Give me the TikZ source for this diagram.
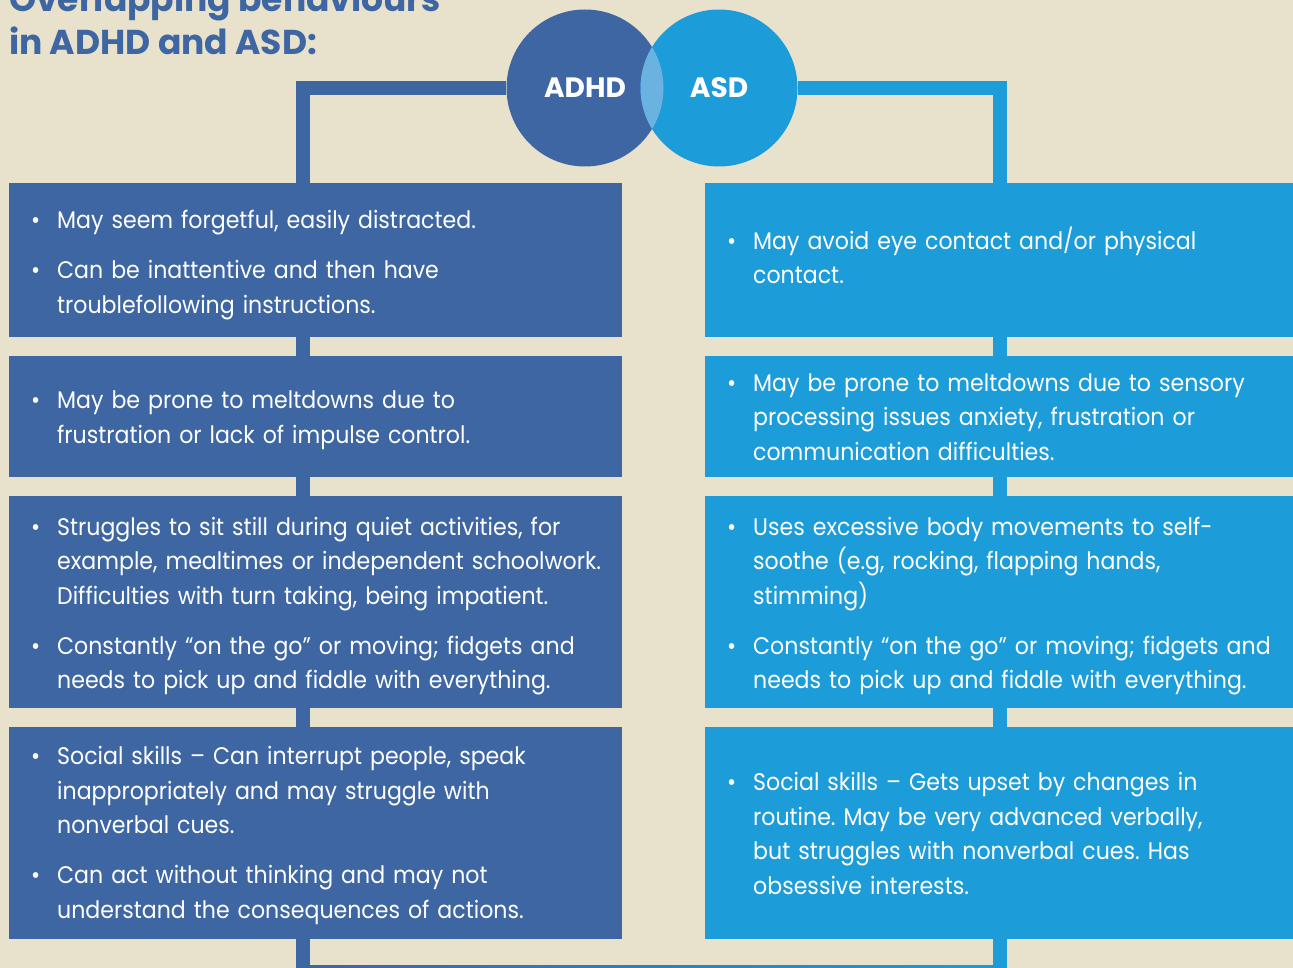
\documentclass[tikz,border=0pt]{standalone}
\usepackage{fontspec}
\setmainfont{Poppins}
\newfontfamily\bodyfont{Poppins}[FakeStretch=0.92]
\usetikzlibrary{calc,backgrounds}
\definecolor{paper}{HTML}{E8E1CC}
\definecolor{adhdblue}{HTML}{3D66A3}
\definecolor{asdblue}{HTML}{1C9CD8}
\definecolor{lensblue}{HTML}{6AB2E0}
\newcommand\itm[1]{\par\leftskip=48pt\noindent\llap{\makebox[26pt][l]{\textbullet}}#1\par}
\newcommand\itmgap{\vspace{15.5pt}}
\tikzset{
  box/.style={anchor=north west, inner sep=0pt, text width=#1, align=left, text=white,
    font=\bodyfont\fontsize{24}{34.5}\selectfont\frenchspacing},
  lift/.style={execute at end node={\par\vspace{#1pt}}},
  circ/.style={circle, minimum size=157, inner sep=0pt, text=white,
    font=\bfseries\fontsize{28}{28}\selectfont},
  frameline/.style={line width=13.5, draw=#1},
}
\begin{document}
\begin{tikzpicture}[x=1pt, y=-1pt]
	\useasboundingbox (0,0) rectangle (1293,968);
	% title
	\node[anchor=base west, align=left, text=adhdblue, inner sep=0pt,
	      font=\bfseries\fontsize{34.5}{43}\selectfont] (title) at (9,55)
	      {Overlapping behaviours\\in ADHD and ASD:};
	% circles
	\node[circ, fill=adhdblue] (adhd) at (585,88) {ADHD};
	\node[circ, fill=asdblue]  (asd)  at (719,88) {ASD};
	\begin{scope}
		\clip (adhd.center) circle (78.5);
		\fill[lensblue] (asd.center) circle (78.5);
	\end{scope}
	% ADHD column
	\node[box=613, lift=6, minimum height=154, fill=adhdblue] (a1) at (9,183)
	  {\itm{May seem forgetful, easily distracted.}\itmgap
	   \itm{Can be inattentive and then have\\troublefollowing instructions.}};
	\node[box=613, lift=10, minimum height=121, fill=adhdblue] (a2) at (9,356)
	  {\itm{May be prone to meltdowns due to\\frustration or lack of impulse control.}};
	\node[box=613, lift=8, minimum height=212, fill=adhdblue] (a3) at (9,496)
	  {\itm{Struggles to sit still during quiet activities, for\\example, mealtimes or independent schoolwork.\\Difficulties with turn taking, being impatient.}\itmgap
	   \itm{Constantly “on the go” or moving; fidgets and\\needs to pick up and fiddle with everything.}};
	\node[box=613, lift=12, minimum height=212, fill=adhdblue] (a4) at (9,727)
	  {\itm{Social skills – Can interrupt people, speak\\inappropriately and may struggle with\\nonverbal cues.}\itmgap
	   \itm{Can act without thinking and may not\\understand the consequences of actions.}};
	% ASD column
	\node[box=588, lift=22, minimum height=154, fill=asdblue] (b1) at (705,183)
	  {\itm{May avoid eye contact and/or physical\\contact.}};
	\node[box=588, lift=16, minimum height=121, fill=asdblue] (b2) at (705,356)
	  {\itm{May be prone to meltdowns due to sensory\\processing issues anxiety, frustration or\\communication difficulties.}};
	\node[box=588, lift=8, minimum height=212, fill=asdblue] (b3) at (705,496)
	  {\itm{Uses excessive body movements to self-\\soothe (e.g, rocking, flapping hands,\\stimming)}\itmgap
	   \itm{Constantly “on the go” or moving; fidgets and\\needs to pick up and fiddle with everything.}};
	\node[box=588, lift=16, minimum height=212, fill=asdblue] (b4) at (705,727)
	  {\itm{Social skills – Gets upset by changes in\\routine. May be very advanced verbally,\\but struggles with nonverbal cues. Has\\obsessive interests.}};
	% frame behind everything
	\coordinate (lb) at (303.2,971.75);
	\coordinate (rb) at (1000,971.75);
	\begin{pgfonlayer}{background}
		\fill[paper] (0,0) rectangle (1293,968);
		\draw[frameline=adhdblue] (adhd.west) -| (lb);
		\draw[frameline=asdblue]  (asd.east)  -| (rb);
		\shade[left color=adhdblue, right color=asdblue]
		  ($(lb)+(-6.75,-6.75)$) rectangle ($(rb)+(6.75,6.75)$);
	\end{pgfonlayer}
\end{tikzpicture}
\end{document}
